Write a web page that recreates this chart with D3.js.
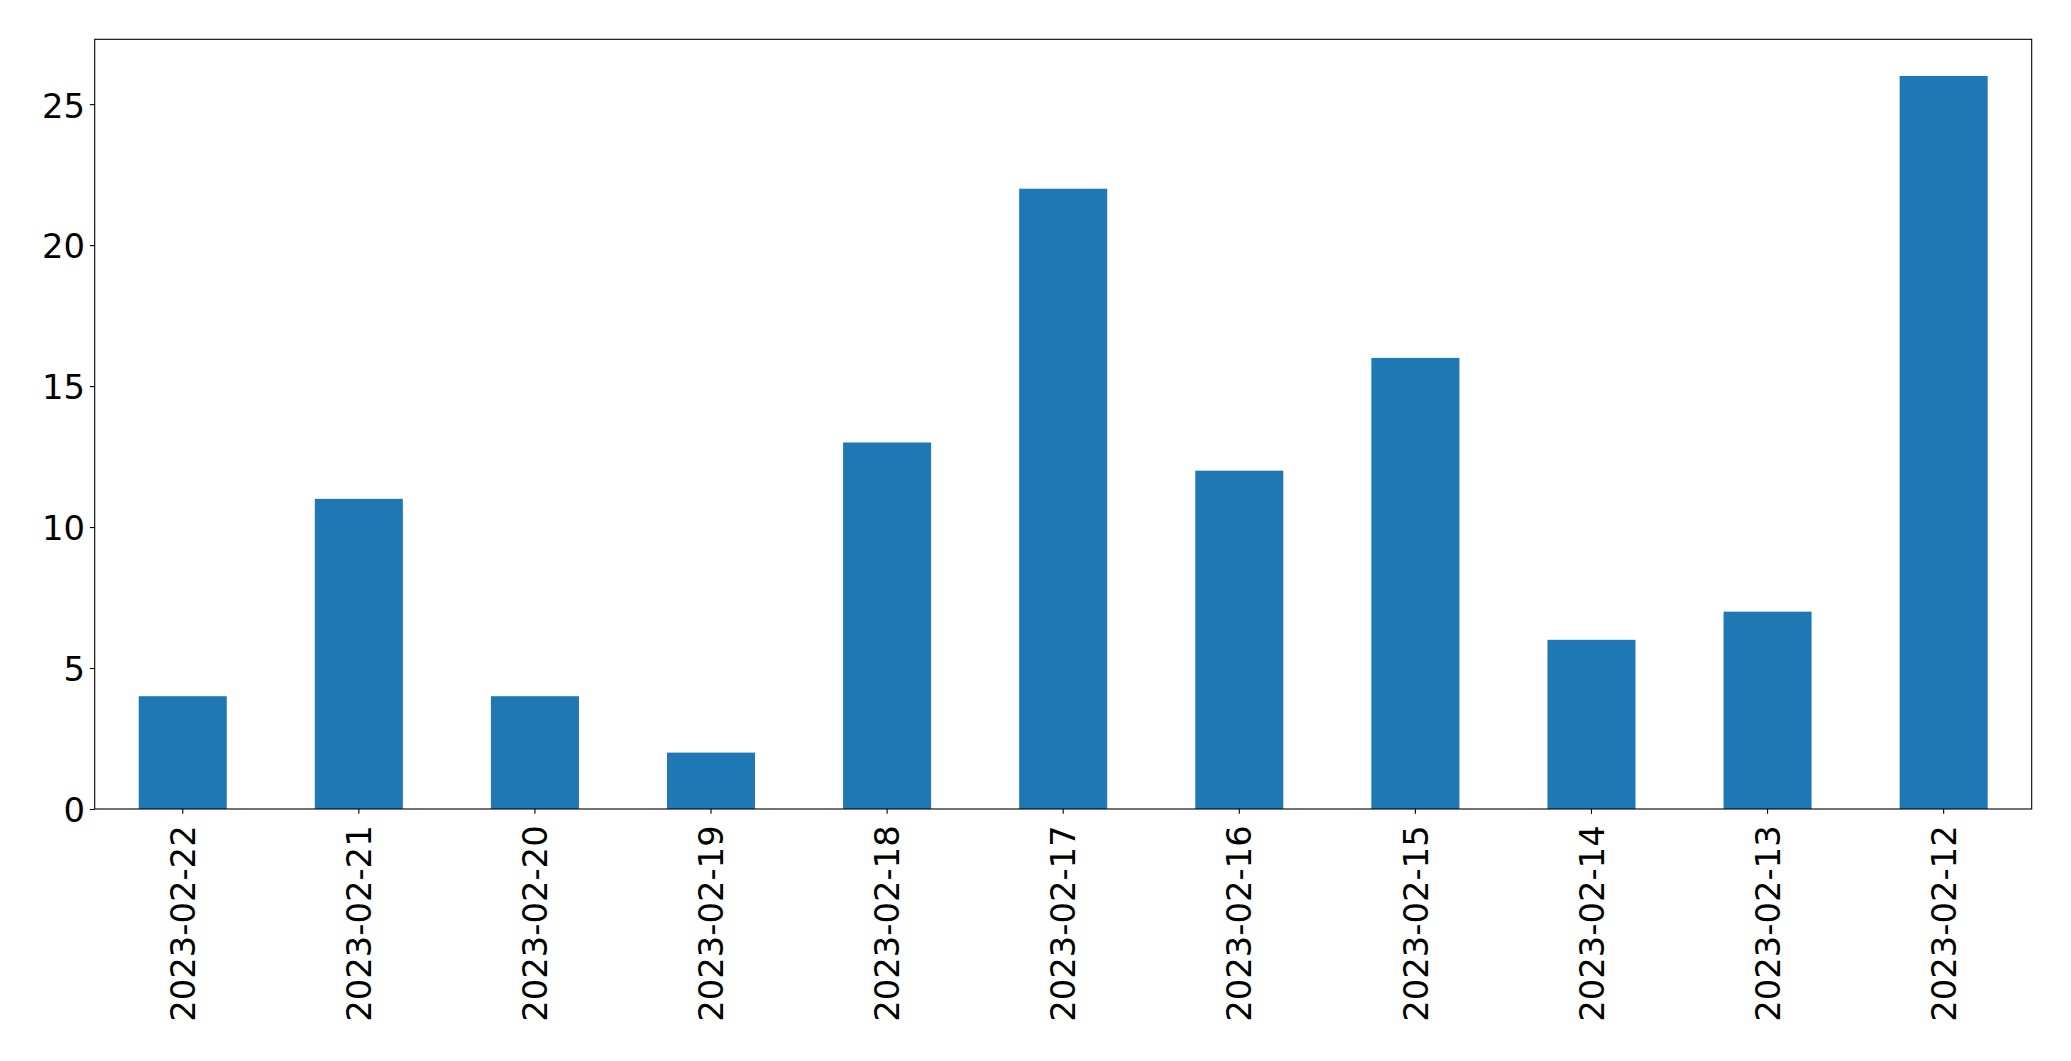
<!DOCTYPE html>
<html>
<head>
<meta charset="utf-8">
<script src="https://cdn.jsdelivr.net/npm/d3@7"></script>
<style>
  html, body { margin: 0; padding: 0; background: #fff; }
  svg { display: block; }
</style>
</head>
<body>
<svg id="chart" width="2071" height="1061"></svg>
<script>
const categories = ["2023-02-22","2023-02-21","2023-02-20","2023-02-19","2023-02-18","2023-02-17","2023-02-16","2023-02-15","2023-02-14","2023-02-13","2023-02-12"];
const values = [4, 11, 4, 2, 13, 22, 12, 16, 6, 7, 26];
const yTicks = [0, 5, 10, 15, 20, 25];

const W = 2071, H = 1061;
const margin = { left: 94.7, right: W - 2031.7, top: 39.3, bottom: H - 809 };
const innerW = W - margin.left - margin.right;
const innerH = H - margin.top - margin.bottom;
const fontSize = 33.8;
const tickLen = 4.86, tickPad = 4.86;

const svg = d3.select("#chart");
const g = svg.append("g").attr("transform", `translate(${margin.left},${margin.top})`);

const x = d3.scaleBand().domain(categories).range([0, innerW]).paddingInner(0.5).paddingOuter(0.25);
const yMax = d3.max(values) * 1.05;
const y = d3.scaleLinear().domain([0, yMax]).range([innerH, 0]);

g.selectAll("rect.bar").data(values).enter().append("rect")
  .attr("class", "bar")
  .attr("x", (d, i) => x(categories[i]))
  .attr("width", x.bandwidth())
  .attr("y", d => y(d))
  .attr("height", d => innerH - y(d))
  .attr("fill", "#1f77b4");

// frame
g.append("rect").attr("x", 0).attr("y", 0).attr("width", innerW).attr("height", innerH)
  .attr("fill", "none").attr("stroke", "#000").attr("stroke-width", 1.1);

// y axis
const yAxis = d3.axisLeft(y).tickValues(yTicks).tickSize(tickLen).tickPadding(tickPad).tickFormat(d3.format("d"));
const ya = g.append("g").call(yAxis);
ya.select(".domain").remove();
ya.selectAll(".tick line").attr("stroke", "#000").attr("stroke-width", 1.1);
ya.selectAll(".tick text").attr("font-family", "DejaVu Sans").attr("font-size", fontSize).attr("fill", "#000")
  .attr("dy", "0.38em");

// x axis
const xAxis = d3.axisBottom(x).tickSize(tickLen).tickPadding(0);
const xa = g.append("g").attr("transform", `translate(0,${innerH})`).call(xAxis);
xa.select(".domain").remove();
xa.selectAll(".tick line").attr("stroke", "#000").attr("stroke-width", 1.1);
xa.selectAll(".tick text")
  .attr("font-family", "DejaVu Sans").attr("font-size", fontSize).attr("fill", "#000")
  .attr("text-anchor", "end")
  .attr("transform", `translate(0,${tickLen + 11.5}) rotate(-90)`)
  .attr("x", 0).attr("y", 0).attr("dy", "0.36em");
</script>
</body>
</html>
